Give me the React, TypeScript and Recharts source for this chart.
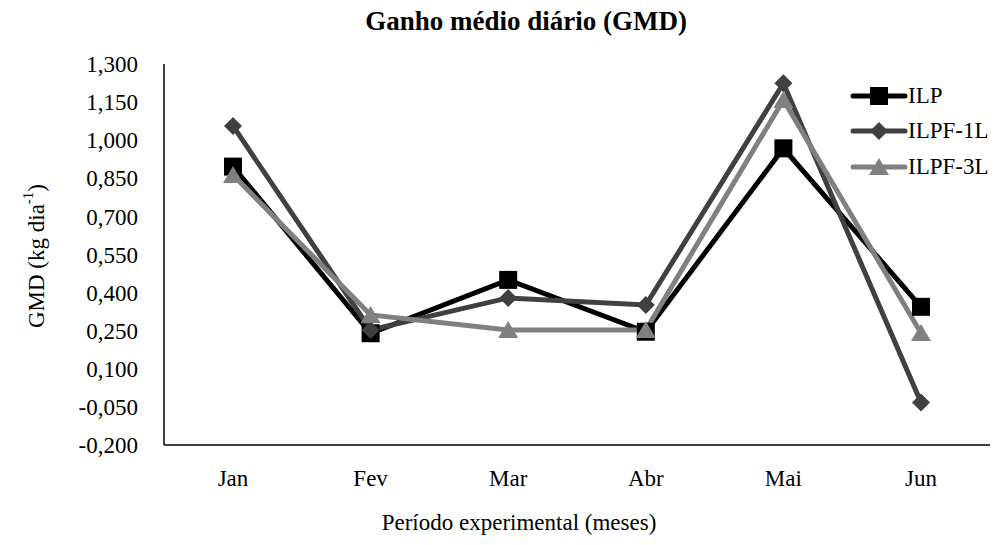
import { LineChart, Line, XAxis, YAxis, Legend } from 'recharts'

const months = ['Jan', 'Fev', 'Mar', 'Abr', 'Mai', 'Jun']
const ilp = [0.896, 0.240, 0.450, 0.246, 0.968, 0.344]
const ilpf1l = [1.056, 0.253, 0.379, 0.351, 1.224, -0.033]
const ilpf3l = [0.863, 0.312, 0.253, 0.253, 1.158, 0.241]
const yTicks = [-0.2, -0.05, 0.1, 0.25, 0.4, 0.55, 0.7, 0.85, 1.0, 1.15, 1.3]

const data = months.map((m, i) => ({ month: m, ILP: ilp[i], 'ILPF-1L': ilpf1l[i], 'ILPF-3L': ilpf3l[i] }))

const FONT = '"Liberation Serif", "Times New Roman", serif'
const FS = 23

const SERIES = [
    { key: 'ILP', color: '#000000', shape: 'square' },
    { key: 'ILPF-1L', color: '#404040', shape: 'diamond' },
    { key: 'ILPF-3L', color: '#808080', shape: 'triangle' },
]

function Marker({ shape, x, y, color }: { shape: string; x: number; y: number; color: string }) {
    if (shape === 'square') return <rect x={x - 9} y={y - 9} width={18} height={18} fill={color} />
    if (shape === 'diamond') return <polygon points={`${x},${y - 9} ${x + 9},${y} ${x},${y + 9} ${x - 9},${y}`} fill={color} />
    return <polygon points={`${x},${y - 9} ${x + 10},${y + 8} ${x - 10},${y + 8}`} fill={color} />
}

const makeDot = (shape: string, color: string) => (props: any) => {
    const { cx, cy, index } = props
    if (cx == null || cy == null) return <g key={index} />
    return <g key={index}><Marker shape={shape} x={cx} y={cy} color={color} /></g>
}

function LegendBox() {
    return (
        <div style={{ fontFamily: FONT, fontSize: FS, color: '#000' }}>
            {SERIES.map((s) => (
                <div key={s.key} style={{ display: 'flex', alignItems: 'center', height: 35.5 }}>
                    <svg width={58} height={24} style={{ flex: 'none' }}>
                        <line x1={3} y1={12} x2={55} y2={12} stroke={s.color} strokeWidth={5} strokeLinecap="round" />
                        <Marker shape={s.shape} x={29} y={12} color={s.color} />
                    </svg>
                    <span style={{ whiteSpace: 'nowrap' }}>{s.key}</span>
                </div>
            ))}
        </div>
    )
}

function YLabel() {
    return (
        <text x={36} y={256} transform="rotate(-90 36 256)" textAnchor="middle" dominantBaseline="central" fontFamily={FONT} fontSize={FS} fill="#000">
            GMD (kg dia<tspan dy={-8} fontSize={15}>-1</tspan><tspan dy={8}>)</tspan>
        </text>
    )
}

function XLabel() {
    return (
        <text x={519} y={530} textAnchor="middle" fontFamily={FONT} fontSize={FS} fill="#000">
            Período experimental (meses)
        </text>
    )
}

export default function App() {
    return (
        <div style={{ position: 'absolute', left: 0, top: 0, width: 1000, height: 545, background: '#fff' }}>
            <div style={{ position: 'absolute', top: 6, left: 0, width: 1052, textAlign: 'center', fontFamily: FONT, fontWeight: 'bold', fontSize: 27 }}>
                Ganho médio diário (GMD)
            </div>
            <LineChart width={1000} height={545} data={data} margin={{ top: 64, right: 10, bottom: 40, left: 64 }}>
                <XAxis
                    dataKey="month"
                    padding={{ left: 69, right: 69 }}
                    height={60}
                    tickLine={false}
                    tickSize={0}
                    tickMargin={25}
                    axisLine={{ stroke: '#000', strokeWidth: 1.5 }}
                    tick={{ fill: '#000', fontFamily: FONT, fontSize: FS }}
                    label={<XLabel />}
                />
                <YAxis
                    width={100}
                    type="number"
                    domain={[-0.2, 1.3]}
                    ticks={yTicks}
                    interval={0}
                    tickLine={false}
                    tickSize={0}
                    tickMargin={26}
                    axisLine={{ stroke: '#000', strokeWidth: 1.5 }}
                    tick={{ fill: '#000', fontFamily: FONT, fontSize: FS }}
                    tickFormatter={(v: number) => v.toFixed(3).replace('.', ',')}
                    label={<YLabel />}
                />
                <Legend
                    layout="vertical"
                    align="center"
                    verticalAlign="middle"
                    content={<LegendBox />}
                    wrapperStyle={{ top: 78, left: 850, width: 150 }}
                />
                {SERIES.map((s) => (
                    <Line
                        key={s.key}
                        dataKey={s.key}
                        type="linear"
                        stroke={s.color}
                        strokeWidth={5}
                        dot={makeDot(s.shape, s.color)}
                        activeDot={false}
                        isAnimationActive={false}
                    />
                ))}
            </LineChart>
        </div>
    )
}
